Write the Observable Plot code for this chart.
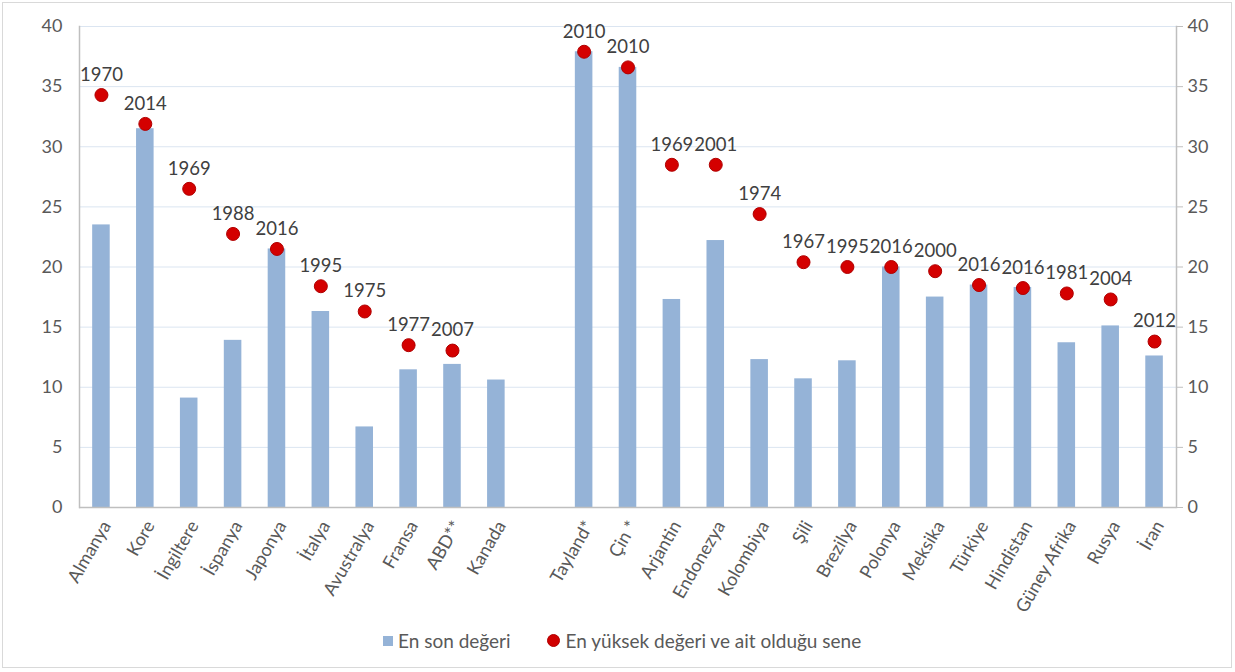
<!DOCTYPE html>
<html><head><meta charset="utf-8">
<script src="https://cdn.jsdelivr.net/npm/d3@7"></script>
<script src="https://cdn.jsdelivr.net/npm/@observablehq/plot@0.6"></script>
<style>
body{margin:0;background:#fff;font-family:Lato,"Open Sans",sans-serif;}
#frame{position:absolute;left:2px;top:2px;width:1230px;height:666px;border:1px solid #d9d9d9;box-sizing:border-box;pointer-events:none}
#chart{position:absolute;left:0;top:0}
#legend{position:absolute;top:629px;left:383px;display:flex;align-items:center;font-size:19px;color:#595959;white-space:nowrap}
.sq{display:inline-block;width:10px;height:10px;background:#95B3D7;margin-right:5px}
.dt{display:inline-block;width:11px;height:11px;border-radius:50%;background:#d00000;border:1px solid #b00000;margin-right:6px;margin-left:36px}
</style>
</head><body>
<div id="chart"></div>
<div id="legend"><span class="sq"></span><span>En son değeri</span><span class="dt"></span><span>En yüksek değeri ve ait olduğu sene</span></div>
<div id="frame"></div>
<script>
const categories = ["Almanya","Kore","İngiltere","İspanya","Japonya","İtalya","Avustralya","Fransa","ABD**","Kanada"," ","Tayland*","Çin *","Arjantin","Endonezya","Kolombiya","Şili","Brezilya","Polonya","Meksika","Türkiye","Hindistan","Güney Afrika","Rusya","İran"];
const latest = [23.5,31.5,9.1,13.9,21.5,16.3,6.7,11.45,11.9,10.6,null,37.9,36.6,17.3,22.2,12.3,10.7,12.2,20.0,17.5,18.5,18.3,13.7,15.1,12.6];
const peak = [34.3,31.9,26.5,22.75,21.5,18.4,16.3,13.5,13.05,null,null,37.9,36.6,28.5,28.5,24.4,20.4,20.0,20.0,19.65,18.5,18.25,17.8,17.3,13.8];
const peakYear = ["1970","2014","1969","1988","2016","1995","1975","1977","2007",null,null,"2010","2010","1969","2001","1974","1967","1995","2016","2000","2016","2016","1981","2004","2012"];
const yTicks = [0,5,10,15,20,25,30,35,40];

const rows = categories.map((c,i)=>({cat:c, latest:latest[i], peak:peak[i], year:peakYear[i]}));
const barRows = rows.filter(d=>d.latest!=null);
const dotRows = rows.filter(d=>d.peak!=null);

const chart = Plot.plot({
  width:1235, height:620,
  marginLeft:79, marginRight:59, marginTop:26, marginBottom:113,
  style:{fontFamily:"Lato, 'Open Sans', sans-serif", fontSize:"18px", color:"#595959", background:"transparent"},
  x:{domain:categories, paddingInner:0.6, paddingOuter:0.3, round:false, label:null},
  y:{domain:[0,40], label:null},
  marks:[
    Plot.gridY(yTicks.filter(t=>t>0), {stroke:"#dbe5f1", strokeOpacity:1}),
    Plot.barY(barRows, {x:"cat", y:"latest", fill:"#95B3D7"}),
    Plot.frame({anchor:"left", stroke:"#bfbfbf", strokeWidth:1.5}),
    Plot.frame({anchor:"right", stroke:"#bfbfbf", strokeWidth:1.5}),
    Plot.ruleY([0], {stroke:"#bfbfbf", strokeWidth:1.5}),
    Plot.axisY(yTicks, {anchor:"left", tickSize:0, tickPadding:17, fontSize:18}),
    Plot.axisY(yTicks, {anchor:"right", tickSize:6, tickPadding:5, stroke:"#bfbfbf", fontSize:18}),
    Plot.axisX({tickRotate:-60, tickSize:0, tickPadding:15, dx:5, fontSize:18}),
    Plot.dot(dotRows, {x:"cat", y:"peak", r:6.5, fill:"#d40000", stroke:"#b00000", strokeWidth:1}),
    Plot.text(dotRows, {x:"cat", y:"peak", text:"year", dy:-20, fill:"#404040", fontSize:18.5})
  ]
});
document.getElementById("chart").append(chart);
</script>
</body></html>
